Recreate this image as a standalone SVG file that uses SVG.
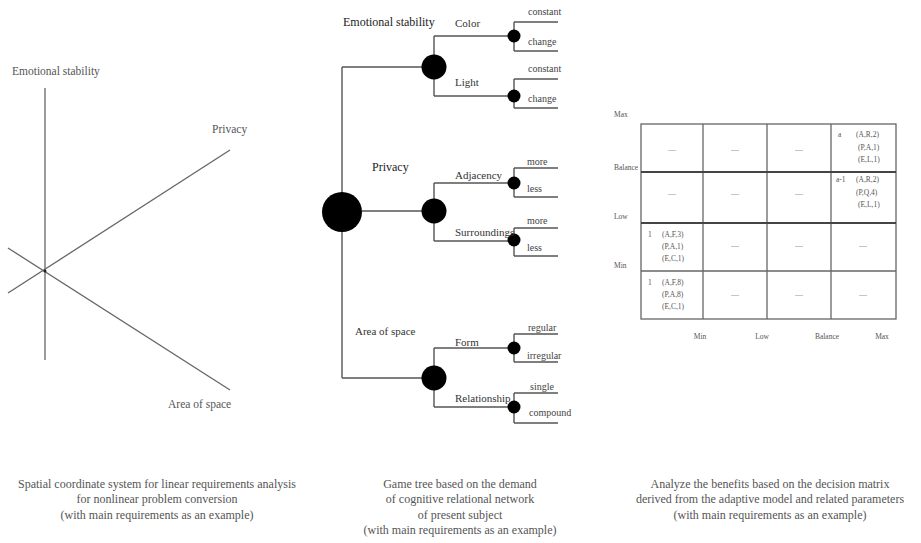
<svg xmlns="http://www.w3.org/2000/svg" width="921" height="543" viewBox="0 0 921 543">
<style>
text{font-family:"Liberation Serif","Times New Roman",serif;fill:#333}
.ax{stroke:#666;stroke-width:1.3;fill:none}
.ed{stroke:#555;stroke-width:1.4;fill:none}
.nd{fill:#000}
.lb{font-size:12px;fill:#222}
.sb{font-size:11px;fill:#333}
.lf{font-size:10px;fill:#444}
.ll{font-size:11.5px;fill:#555}
.cap{font-size:12px;fill:#555;text-anchor:middle}
.sm{font-size:7.5px;fill:#555}
.gr{stroke:#666;stroke-width:1.3;fill:none}
.gt{stroke:#444;stroke-width:2.2;fill:none}
.ds{font-size:8px;fill:#999;text-anchor:middle}
</style>

<g id="coordinate-system">
  <line class="ax" x1="45" y1="88" x2="45" y2="360"/>
  <line class="ax" x1="8" y1="293" x2="230" y2="150"/>
  <line class="ax" x1="8" y1="248" x2="230" y2="390"/>
  <circle cx="45" cy="271" r="1.5" fill="#222"/>
  <text x="12" y="75" class="ll">Emotional stability</text>
  <text x="212" y="133" class="ll">Privacy</text>
  <text x="168" y="408" class="ll">Area of space</text>
</g>

<g id="connectors">
  <path class="ed" d="M342,67 V378"/>
  <path class="ed" d="M342,67 H434 M362,211 H434 M342,378 H434"/>
  <path class="ed" d="M434,36 V96 M434,36 H514 M434,96 H514"/>
  <path class="ed" d="M434,183 V241 M434,183 H514 M434,241 H514"/>
  <path class="ed" d="M434,348 V407 M434,348 H514 M434,407 H514"/>
  <path class="ed" d="M514,22 V51 M514,22 H558 M514,51 H558"/>
  <path class="ed" d="M514,79 V108 M514,79 H558 M514,108 H558"/>
  <path class="ed" d="M514,168 V197 M514,168 H558 M514,197 H558"/>
  <path class="ed" d="M514,228 V256 M514,228 H558 M514,256 H558"/>
  <path class="ed" d="M514,334 V362 M514,334 H558 M514,362 H558"/>
  <path class="ed" d="M514,393 V423 M514,393 H558 M514,423 H558"/>
</g>

<g id="root"><circle class="nd" cx="342" cy="212" r="20"/></g>
<g id="emotional-stability">
  <circle class="nd" cx="434" cy="67" r="12.5"/>
  <text x="343" y="26" class="lb">Emotional stability</text>
</g>
<g id="privacy">
  <circle class="nd" cx="434" cy="211" r="12.5"/>
  <text x="372" y="171" class="lb">Privacy</text>
</g>
<g id="area-of-space">
  <circle class="nd" cx="434" cy="378" r="12.5"/>
  <text x="355" y="335" class="sb">Area of space</text>
</g>
<g id="color">
  <circle class="nd" cx="514" cy="36" r="6.5"/>
  <text x="455" y="27" class="sb">Color</text>
  <text x="528" y="15" class="lf">constant</text>
  <text x="528" y="45" class="lf">change</text>
</g>
<g id="light">
  <circle class="nd" cx="514" cy="96" r="6.5"/>
  <text x="455" y="86" class="sb">Light</text>
  <text x="528" y="72" class="lf">constant</text>
  <text x="528" y="102" class="lf">change</text>
</g>
<g id="adjacency">
  <circle class="nd" cx="514" cy="183" r="6.5"/>
  <text x="455" y="179" class="sb">Adjacency</text>
  <text x="527" y="165" class="lf">more</text>
  <text x="527" y="192" class="lf">less</text>
</g>
<g id="surroundings">
  <circle class="nd" cx="514" cy="240" r="6.5"/>
  <text x="455" y="236" class="sb">Surroundings</text>
  <text x="527" y="224" class="lf">more</text>
  <text x="527" y="251" class="lf">less</text>
</g>
<g id="form">
  <circle class="nd" cx="514" cy="348" r="6.5"/>
  <text x="455" y="346" class="sb">Form</text>
  <text x="528" y="331" class="lf">regular</text>
  <text x="527" y="359" class="lf">irregular</text>
</g>
<g id="relationship">
  <circle class="nd" cx="514" cy="407" r="6.5"/>
  <text x="455" y="402" class="sb">Relationship</text>
  <text x="530" y="390" class="lf">single</text>
  <text x="529" y="416" class="lf">compound</text>
</g>

<g id="decision-matrix">
  <rect class="gr" x="641" y="124" width="255" height="195"/>
  <line class="gr" x1="703" y1="124" x2="703" y2="319"/>
  <line class="gr" x1="767" y1="124" x2="767" y2="319"/>
  <line class="gr" x1="831" y1="124" x2="831" y2="319"/>
  <line class="gt" x1="641" y1="172" x2="896" y2="172"/>
  <line class="gt" x1="641" y1="223" x2="896" y2="223"/>
  <line class="gr" x1="641" y1="271" x2="896" y2="271"/>
  <text x="614" y="117" class="sm">Max</text>
  <text x="614" y="170" class="sm">Balance</text>
  <text x="614" y="219" class="sm">Low</text>
  <text x="614" y="268" class="sm">Min</text>
  <text x="700" y="339" class="sm" text-anchor="middle">Min</text>
  <text x="762" y="339" class="sm" text-anchor="middle">Low</text>
  <text x="827" y="339" class="sm" text-anchor="middle">Balance</text>
  <text x="882" y="339" class="sm" text-anchor="middle">Max</text>
  <text x="672" y="152" class="ds">—</text>
  <text x="735" y="152" class="ds">—</text>
  <text x="799" y="152" class="ds">—</text>
  <text x="672" y="196" class="ds">—</text>
  <text x="735" y="196" class="ds">—</text>
  <text x="799" y="196" class="ds">—</text>
  <text x="735" y="248" class="ds">—</text>
  <text x="799" y="248" class="ds">—</text>
  <text x="863" y="248" class="ds">—</text>
  <text x="735" y="297" class="ds">—</text>
  <text x="799" y="297" class="ds">—</text>
  <text x="863" y="297" class="ds">—</text>
  <text x="838" y="137" class="sm">a</text>
  <text x="856" y="137" class="sm">(A,R,2)</text>
  <text x="858" y="150" class="sm">(P,A,1)</text>
  <text x="858" y="162" class="sm">(E,L,1)</text>
  <text x="836" y="182" class="sm">a-1</text>
  <text x="856" y="182" class="sm">(A,R,2)</text>
  <text x="856" y="195" class="sm">(P,Q,4)</text>
  <text x="858" y="207" class="sm">(E,L,1)</text>
  <text x="648" y="237" class="sm">1</text>
  <text x="662" y="237" class="sm">(A,F,3)</text>
  <text x="662" y="249" class="sm">(P,A,1)</text>
  <text x="662" y="261" class="sm">(E,C,1)</text>
  <text x="648" y="285" class="sm">1</text>
  <text x="662" y="285" class="sm">(A,F,8)</text>
  <text x="662" y="297" class="sm">(P,A,8)</text>
  <text x="662" y="309" class="sm">(E,C,1)</text>
</g>

<g id="captions">
  <text class="cap" x="157" y="488">Spatial coordinate system for linear requirements analysis</text>
  <text class="cap" x="157" y="503">for nonlinear problem conversion</text>
  <text class="cap" x="157" y="519">(with main requirements as an example)</text>
  <text class="cap" x="460" y="488">Game tree based on the demand</text>
  <text class="cap" x="460" y="503">of cognitive relational network</text>
  <text class="cap" x="460" y="519">of present subject</text>
  <text class="cap" x="460" y="534">(with main requirements as an example)</text>
  <text class="cap" x="770" y="488">Analyze the benefits based on the decision matrix</text>
  <text class="cap" x="770" y="503">derived from the adaptive model and related parameters</text>
  <text class="cap" x="770" y="519">(with main requirements as an example)</text>
</g>
</svg>
